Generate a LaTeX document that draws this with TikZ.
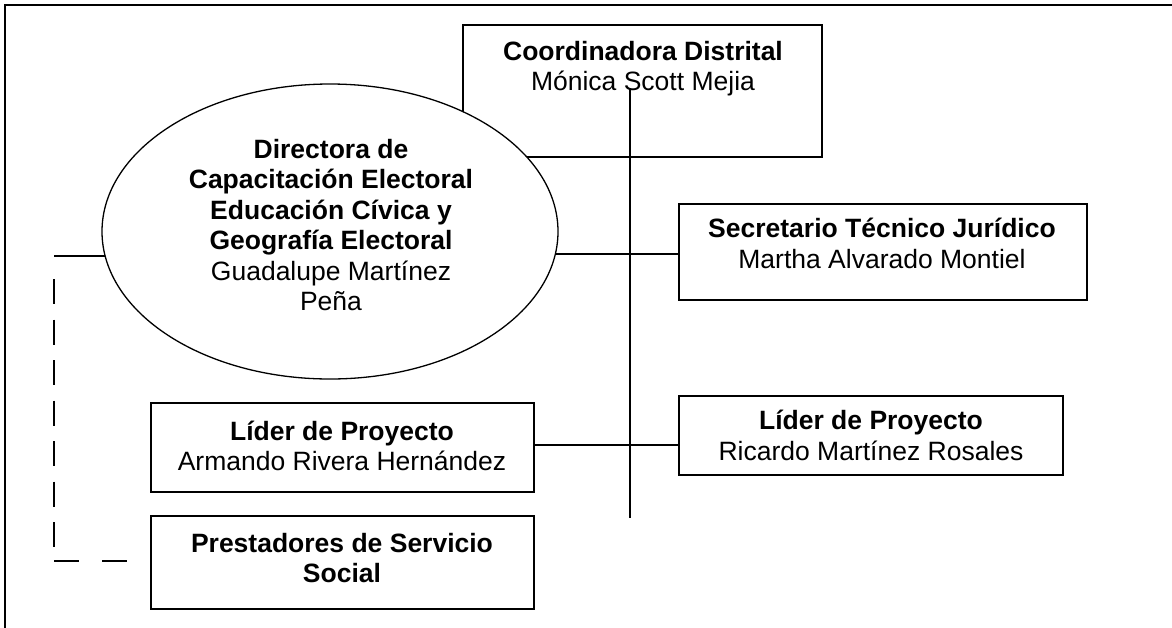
\documentclass[tikz,border=0pt]{standalone}
\usepackage{fontspec}
\setmainfont{Liberation Sans}
\usetikzlibrary{shapes.geometric}
\pgfdeclarelayer{bg}
\pgfsetlayers{bg,main}
\begin{document}
\begin{tikzpicture}[x=1pt,y=-1pt,
  box/.style={draw, line width=1.7pt, inner sep=0pt},
  txt/.style={align=center, font=\fontsize{26.5}{30.5}\selectfont, inner sep=0pt},
  conn/.style={line width=1.5pt},
  frame/.style={line width=2.2pt}]
\useasboundingbox (0,0) rectangle (1172,627);
% outer frame
\draw[frame] (1190,5) -- (5,5) -- (5,640);
% Coordinadora
\node[box, minimum width=359pt, minimum height=132pt] (coord) at (642.5,91) {};
\node[txt] (coordt) at (643,68.5) {\textbf{Coordinadora Distrital}\\Mónica Scott Mejia};
% Directora (ellipse)
\node[draw, fill=white, ellipse, line width=1.3pt, minimum width=456pt, minimum height=295pt, inner sep=0pt] (dir) at (330,231.5) {};
\node[txt] (dirt) at (331,225) {\textbf{Directora de}\\\textbf{Capacitación Electoral}\\\textbf{Educación Cívica y}\\\textbf{Geografía Electoral}\\Guadalupe Martínez\\Peña};
% Secretario
\node[box, minimum width=408pt, minimum height=96pt] (sec) at (883,252) {};
\node[txt] (sect) at (882,243.5) {\textbf{Secretario Técnico Jurídico}\\Martha Alvarado Montiel};
% Lider right
\node[box, minimum width=384pt, minimum height=79pt] (lidr) at (871,435.5) {};
\node[txt] (lidrt) at (871,435.5) {\textbf{Líder de Proyecto}\\Ricardo Martínez Rosales};
% Lider left
\node[box, minimum width=383pt, minimum height=89pt] (lidl) at (342.5,447.5) {};
\node[txt] (lidlt) at (342,446) {\textbf{Líder de Proyecto}\\Armando Rivera Hernández};
% Prestadores
\node[box, minimum width=383pt, minimum height=93pt] (prest) at (342.5,562.5) {};
\node[txt] (prestt) at (342,558) {\textbf{Prestadores de Servicio}\\\textbf{Social}};
% connectors
\coordinate (vtop) at (630,88);
\coordinate (vbot) at (630,518);
\draw[conn] (vtop) -- (vbot);
\coordinate (ys) at (600,254);
\coordinate (yl) at (600,445);
\coordinate (lc) at (54,256);
\coordinate (dv1) at (54,279);
\coordinate (dv2) at (54,547);
\coordinate (dh) at (54,561);
\begin{pgfonlayer}{bg}
\draw[conn] (ys -| sec.west) -- (ys -| dir.center);
\draw[conn] (lc) -- (lc -| dir.center);
\end{pgfonlayer}
\draw[conn] (yl -| lidl.east) -- (yl -| lidr.west);
\draw[conn, dash pattern=on 25pt off 15.5pt] (dv1) -- (dv2);
\draw[conn, dash pattern=on 25pt off 23pt] (dh) -- (dh -| prest.west);
\end{tikzpicture}
\end{document}
